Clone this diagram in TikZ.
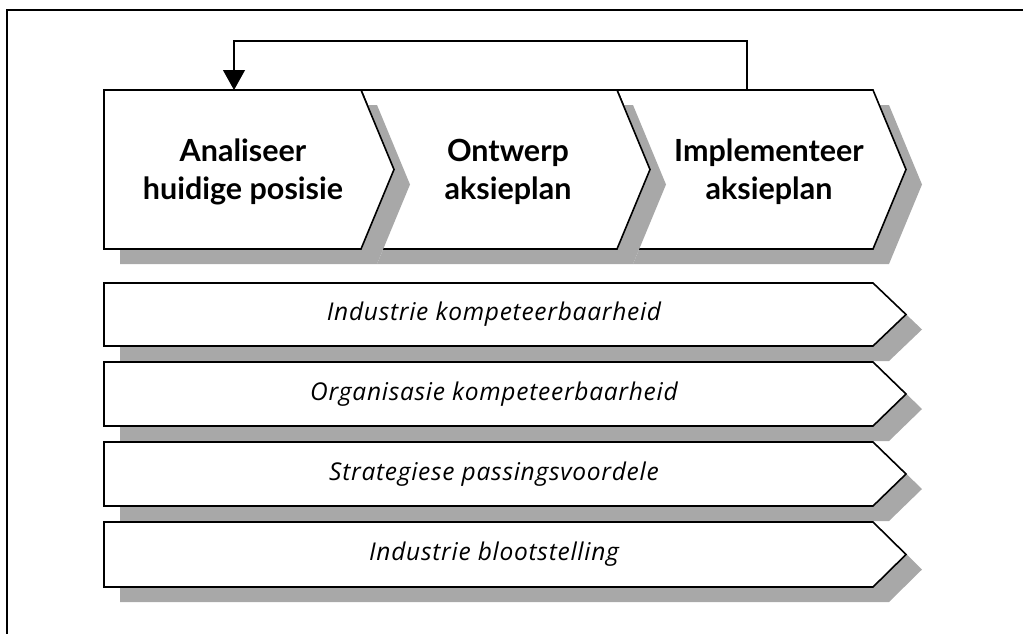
\documentclass[tikz,border=0pt]{standalone}
\usepackage{fontspec}
\setmainfont{Lato}
\newfontfamily\barfont{Open Sans}[LetterSpace=3]
\usetikzlibrary{arrows.meta}

% step shape: left x, right x, top y, bottom y, notch depth on the left (0 = flat)
\newcommand{\stepoutline}[5]{%
  (#1,#3) -- (#2,#3) -- ({#2+33},{(#3+#4)/2}) -- (#2,#4) -- (#1,#4)
  -- ({#1+#5},{(#3+#4)/2}) -- cycle}
\newcommand{\stepblock}[5]{%
  \fill[shadowfill] [shift={(16,15)}] \stepoutline{#1}{#2}{#3}{#4}{#5};
  \draw[outline] \stepoutline{#1}{#2}{#3}{#4}{#5};}

\begin{document}
\begin{tikzpicture}[x=1pt,y=-1pt,
  outline/.style={fill=white,draw=black,line width=1.6pt,line join=miter},
  shadowfill/.style={fill=black!34},
  frameline/.style={line width=1.6pt},
  head/.style={align=center,font=\bfseries\fontsize{30.5}{38}\selectfont,inner sep=0pt},
  bartext/.style={font=\barfont\itshape\fontsize{24.5}{28}\selectfont,inner sep=0pt},
  loopline/.style={line width=1.1pt,-{Triangle[width=22pt,length=20pt]}}]
\useasboundingbox (0,0) rectangle (1023,633);

% outer frame
\draw[frameline] (7,645) -- (7,10) -- (1035,10);

% process steps, right to left so each shadow falls over the next step
\stepblock{617}{873}{90}{249}{33}
\stepblock{361}{617}{90}{249}{33}
\stepblock{104}{361}{90}{249}{0}

\node[head] (s1) at (243,172) {Analiseer\\huidige posisie};
\node[head] (s2) at (508,172) {Ontwerp\\aksieplan};
\node[head] (s3) at (769,172) {Implementeer\\aksieplan};

% feedback loop from the last step back to the first
\coordinate (loopstart) at (747,90);
\coordinate (loopend) at (234,90);
\draw[loopline] (loopstart) -- ++(0,-49) -| (loopend);

% dimension bars
\stepblock{104}{873}{283}{346}{0}
\stepblock{104}{873}{362}{426}{0}
\stepblock{104}{873}{442}{506}{0}
\stepblock{104}{873}{522}{587}{0}

\node[bartext] (b1) at (494,314.5) {Industrie kompeteerbaarheid};
\node[bartext] (b2) at (494,394) {Organisasie kompeteerbaarheid};
\node[bartext] (b3) at (494,474) {Strategiese passingsvoordele};
\node[bartext] (b4) at (494,554.5) {Industrie blootstelling};
\end{tikzpicture}
\end{document}
